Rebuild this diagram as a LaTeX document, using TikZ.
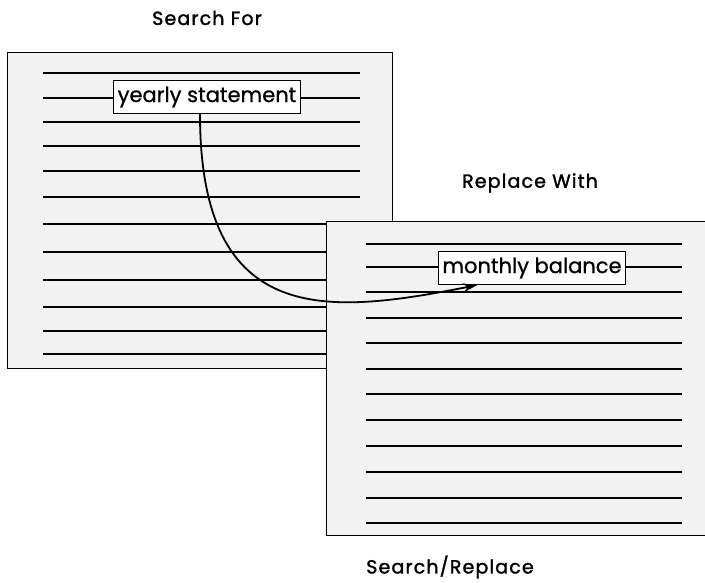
\documentclass[tikz,border=0pt]{standalone}
\usepackage{fontspec}
\setmainfont{Poppins}
\usetikzlibrary{arrows.meta}
\begin{document}
\begin{tikzpicture}[x=1pt,y=-1pt,
  sheet/.style={draw=black,line width=1.3pt,fill=black!5,inner sep=0pt,anchor=north west},
  rule/.style={line width=1.6pt},
  field/.style={draw=black,line width=1.3pt,fill=white,inner xsep=4pt,inner ysep=2pt,minimum height=33pt,
    font=\fontsize{21}{21}\selectfont\addfontfeature{FakeBold=0.8}},
  heading/.style={font=\fontsize{19}{19}\selectfont\addfontfeature{LetterSpace=6,FakeBold=1.6}},
  link/.style={line width=1.8pt,-{Stealth[length=14pt,width=9pt]}}]
\useasboundingbox (0,0) rectangle (705,583);
\clip (0,0) rectangle (705,583);

% first sheet with the search text
\node[sheet,minimum width=385pt,minimum height=316pt] (src) at (7,52) {};
\foreach \y in {73,98,122,146,171,197,224,252,280,307,331,354}
  \draw[rule] (43,\y) -- (360,\y);
\node[field] (find) at (207,97) {yearly statement};
\node[heading] (srch) at (207,18) {Search For};

% second sheet with the replacement text
\node[sheet,minimum width=390pt,minimum height=314pt] (dst) at (326,221) {};
\foreach \y in {244,267,292,318,343,369,394,420,446,472,498,523}
  \draw[rule] (366,\y) -- (682,\y);
\node[field] (repl) at (532,268) {monthly balance};
\node[heading] (rplw) at (530,183) {Replace With};

\node[heading] (cap) at (450,567) {Search/Replace};

% substitution arrow
\draw[link] ([xshift=-7pt]find.south) .. controls (200,330) and (330,314) .. ([xshift=-55pt]repl.south);
\end{tikzpicture}
\end{document}
